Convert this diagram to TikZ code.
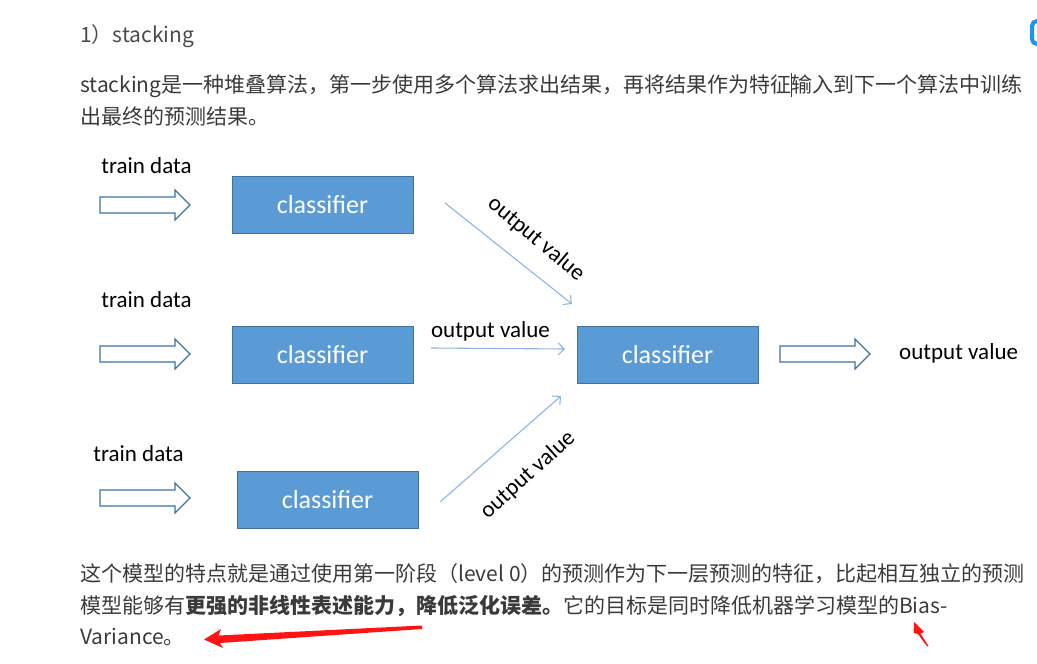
\documentclass[tikz,border=0pt]{standalone}
\usepackage{fontspec}
\setmainfont{Noto Sans CJK SC}
\newfontfamily\calibri{Carlito}
\usetikzlibrary{arrows.meta}

\definecolor{boxblue}{HTML}{5B9BD5}
\definecolor{boxedge}{HTML}{41719C}
\definecolor{feedblue}{HTML}{8DB4E2}
\definecolor{webtext}{HTML}{3A3A3A}
\definecolor{titletext}{HTML}{4A4A4A}
\definecolor{markred}{HTML}{FF1414}
\definecolor{tabblue}{HTML}{1A96EE}

\tikzset{
  clf/.style={draw=boxedge, line width=0.8pt, fill=boxblue, text=white,
    minimum width=181pt, minimum height=57pt, inner sep=0pt,
    font=\calibri\fontsize{26}{26}\selectfont},
  lbl/.style={font=\calibri\fontsize{23}{23}\selectfont, text=black, inner sep=0pt},
  web/.style={anchor=base west, inner sep=0pt, text=webtext, font=\fontsize{21}{21}\selectfont},
  feed/.style={draw=feedblue, line width=1.1pt, -{Straight Barb[length=6pt,width=12pt]}},
  hollow/.style={draw=boxedge, line width=1.2pt, fill=white},
  pics/fatarrow/.style={code={
    \draw[hollow] (0,-8) -- (75,-8) -- (75,-15) -- (90,0) -- (75,15) -- (75,8) -- (0,8) -- cycle;}}
}

\begin{document}
\begin{tikzpicture}[x=1pt,y=-1pt]
  \useasboundingbox (0,0) rectangle (1037,664);

  % Page text above
  \node[web, text=titletext] (title) at (80,42) {1）stacking};
  \node[web] (p1a) at (80,92) {stacking是一种堆叠算法，第一步使用多个算法求出结果，再将结果作为特征};
  \node[web] (p1b) at (p1a.base east) {输入到下一个算法中训练};
  \node[web] (p2) at (80,124) {出最终的预测结果。};
  \coordinate (cur) at (p1a.base east);
  \draw[webtext, line width=0.7pt] (cur) ++(0,5) -- ++(0,-24);

  % Blue tab at the right edge
  \draw[tabblue, line width=4pt, rounded corners=5pt] (1032,21) rectangle (1062,44);

  % Drawing train data
  \node[lbl, anchor=base] (td1) at (146.5,173) {train data};
  \node[lbl, anchor=base] (td2) at (146.5,307.5) {train data};
  \node[lbl, anchor=base] (td3) at (138.5,461) {train data};

  % Drawing hollow arrows
  \pic (in1) at (100,205) {fatarrow};
  \pic (in2) at (100,354) {fatarrow};
  \pic (in3) at (100,498) {fatarrow};
  \pic (out) at (780,354) {fatarrow};

  % Drawing classifiers
  \node[clf] (c1) at (322.5,204.5) {classifier};
  \node[clf] (c2) at (322.5,354.5) {classifier};
  \node[clf] (c3) at (327.5,499.5) {classifier};
  \node[clf] (cf) at (667.5,354.5) {classifier};

  % Drawing output value arrows
  \coordinate (s1) at (445,203);
  \coordinate (e1) at (572,304);
  \coordinate (s2) at (431,348);
  \coordinate (e2) at (565,349);
  \coordinate (s3) at (440,502);
  \coordinate (e3) at (561,396);
  \draw[feed] (s1) -- (e1);
  \draw[feed] (s2) -- (e2);
  \draw[feed] (s3) -- (e3);

  % Marking output value labels
  \node[lbl, rotate=-40] (v1) at (536,239) {output value};
  \node[lbl] (v2) at (490.5,331) {output value};
  \node[lbl, rotate=42] (v3) at (528,475) {output value};
  \node[lbl, anchor=base west] (vout) at (899,359) {output value};

  % Page text below
  \node[web] (q1) at (80,581) {这个模型的特点就是通过使用第一阶段（level 0）的预测作为下一层预测的特征，比起相互独立的预测};
  \node[web] (q2) at (80,613) {模型能够有{\bfseries 更强的非线性表述能力，降低泛化误差。}它的目标是同时降低机器学习模型的Bias-};
  \node[web] (q3) at (80,644) {Variance。};

  % Red marks
  \fill[markred] (204,639.5) -- (221,629) -- (218.5,635.5) -- (422,625.5) -- (422,629)
    -- (220,643) -- (223,648) -- cycle;
  \fill[markred] (914,622) -- (924,632) -- (920.5,633.5) -- (928.5,646) -- (927,646.3)
    -- (918,634) -- (913.5,633) -- cycle;
\end{tikzpicture}
\end{document}
